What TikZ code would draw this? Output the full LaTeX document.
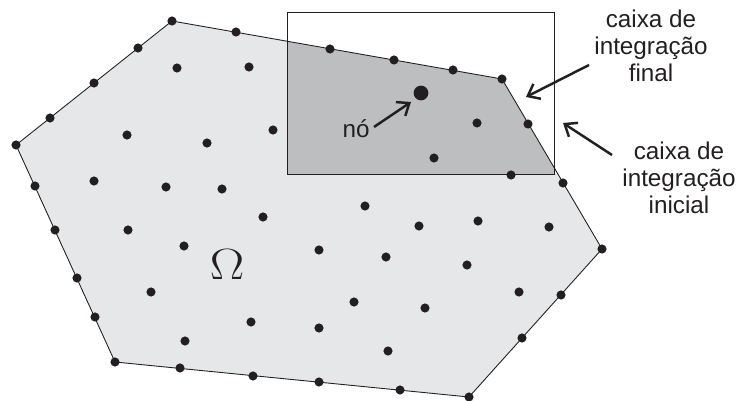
\documentclass[tikz,border=0pt]{standalone}
\usepackage{fontspec}
\newfontfamily\labelfont{Liberation Sans}
\usetikzlibrary{arrows.meta}

\definecolor{regionlight}{HTML}{E6E7E8}
\definecolor{regiondark}{HTML}{BCBEC0}
\definecolor{inkblack}{HTML}{231F20}

\begin{document}
\begin{tikzpicture}[
    x=0.02cm,
    y=-0.02cm,
    dot/.style={fill=inkblack},
    outline/.style={draw=inkblack, line width=0.5pt},
    caption/.style={
        font=\labelfont\fontsize{13.8}{15.4}\selectfont,
        text=inkblack,
        align=center,
        inner sep=0pt
    },
    pointer/.style={
        draw=inkblack,
        line width=1.4pt,
        -{Straight Barb[length=6pt,width=9.5pt]}
    }
]

\useasboundingbox (0,0) rectangle (737,401);

% --------------------------------------------------
% Domain corners and box corners
% --------------------------------------------------

\coordinate (A) at (172,21);
\coordinate (B) at (502,79);
\coordinate (C) at (602,249);
\coordinate (D) at (469,397);
\coordinate (E) at (115,362);
\coordinate (F) at (16,145);

\coordinate (boxnw) at (287,12);
\coordinate (boxse) at (554,174);

% --------------------------------------------------
% Domain and integration box
% --------------------------------------------------

\fill[regionlight] (A) -- (B) -- (C) -- (D) -- (E) -- (F) -- cycle;

\begin{scope}
    \clip (boxnw) rectangle (boxse);
    \fill[regiondark] (A) -- (B) -- (C) -- (D) -- (E) -- (F) -- cycle;
\end{scope}

\draw[outline] (A) -- (B) -- (C) -- (D) -- (E) -- (F) -- cycle;
\draw[outline] (boxnw) rectangle (boxse);

% --------------------------------------------------
% Nodes on the boundary
% --------------------------------------------------

\foreach \p in {(172,21),(502,79),(602,249),(469,397),(115,362),(16,145),
    (236,32),(330,49),(394,60),(453,70),
    (138,48),(94,83),(50,118),
    (35,186),(55,230),(77,278),(95,317),
    (180,368),(253,376),(319,382),(400,390),
    (528,124),(563,183),(561,295),(522,338)}
{
    \fill[dot] \p circle[radius=2.6pt];
}

% --------------------------------------------------
% Nodes inside the domain
% --------------------------------------------------

\foreach \p in {(177,68),(249,67),(127,135),(207,143),(273,130),
    (94,181),(166,187),(222,189),(477,123),(434,158),(511,175),
    (128,230),(184,246),(263,217),(365,206),(319,250),
    (151,292),(251,322),(319,328),(354,302),(185,341),
    (419,226),(478,221),(549,227),(386,257),(467,265),
    (519,292),(425,308),(388,351)}
{
    \fill[dot] \p circle[radius=2.6pt];
}

\fill[dot] (421,93) circle[radius=4.2pt];
\coordinate (bignode) at (421,93);

% --------------------------------------------------
% Labels
% --------------------------------------------------

\node[font=\fontsize{23}{26}\selectfont, xscale=1.18, text=inkblack] (omega)
    at (227,265) {$\Omega$};

\node[caption, anchor=base] (no) at (356,138) {nó};

\node[caption] (final) at (651,46)
    {caixa de\\integração\\final};

\node[caption] (inicial) at (679,178)
    {caixa de\\integração\\inicial};

% --------------------------------------------------
% Pointers
% --------------------------------------------------

\coordinate (finaltail) at (589,65);
\coordinate (finaltip) at (526,97);
\coordinate (inicialtail) at (612,155);
\coordinate (inicialtip) at (563,123);
\coordinate (notail) at (374,127);
\coordinate (notip) at (411,102);

\draw[pointer] (finaltail) -- (finaltip);
\draw[pointer] (inicialtail) -- (inicialtip);
\draw[pointer] (notail) -- (notip);

\end{tikzpicture}
\end{document}
